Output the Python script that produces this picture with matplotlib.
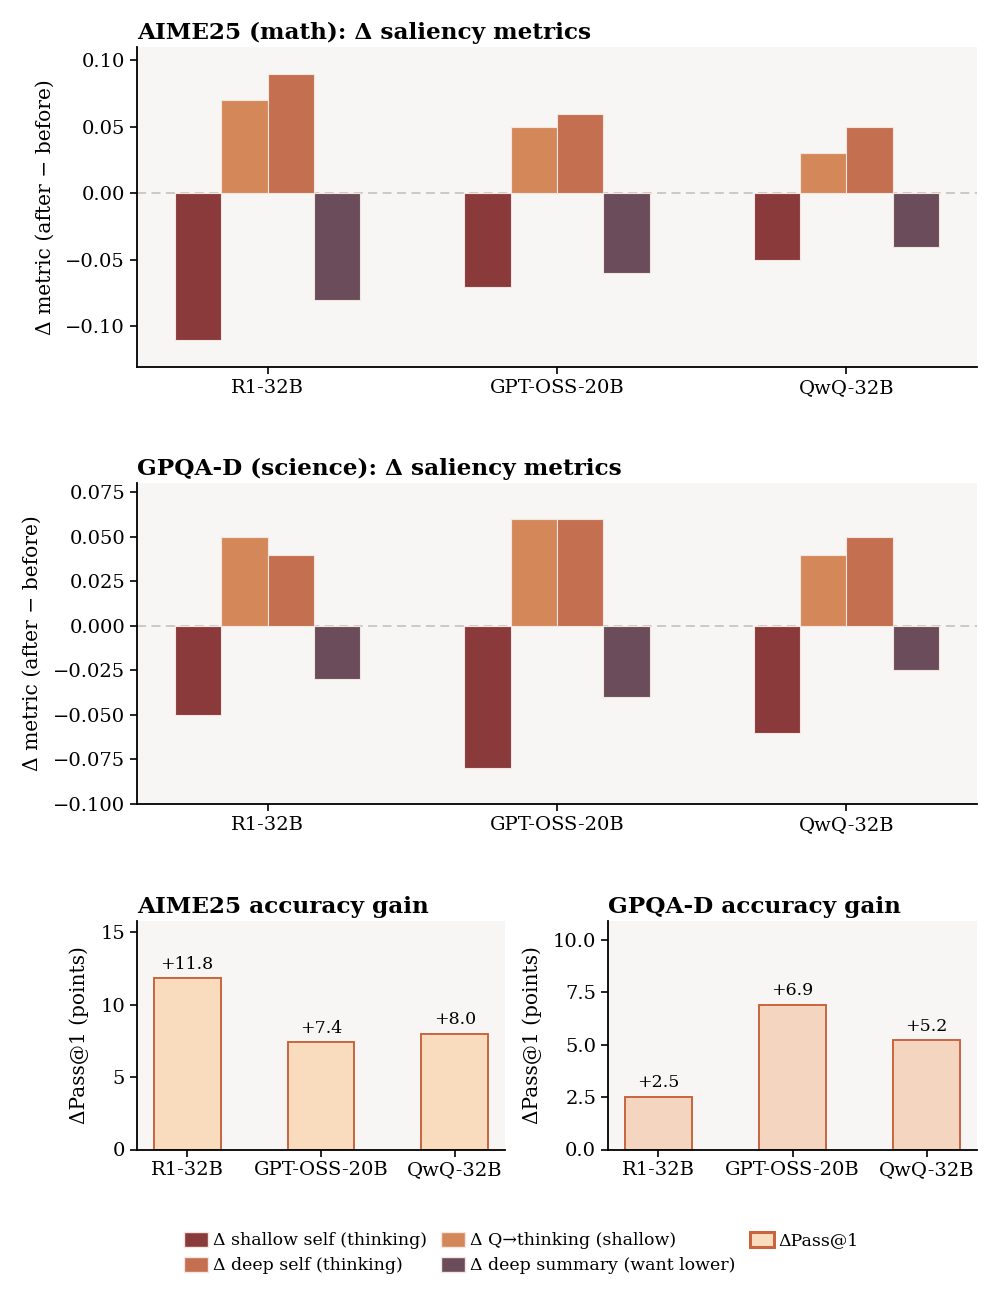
import matplotlib
matplotlib.use("Agg")
import matplotlib.pyplot as plt
import numpy as np
from matplotlib.patches import Patch

plt.rcParams['font.family'] = ['DejaVu Serif']

models = ["R1-32B", "GPT-OSS-20B", "QwQ-32B"]
metric_names = ["Δ shallow self (thinking)", "Δ Q→thinking (shallow)",
                "Δ deep self (thinking)", "Δ deep summary (want lower)"]
metric_colors = ["#8B3A3B", "#D4885A", "#C46F50", "#6B4C5A"]

aime_shallow = [-0.11, -0.07, -0.05]
aime_q2think = [0.07, 0.05, 0.03]
aime_deep = [0.09, 0.06, 0.05]
aime_summary = [-0.08, -0.06, -0.04]

gpqa_shallow = [-0.05, -0.08, -0.06]
gpqa_q2think = [0.05, 0.06, 0.04]
gpqa_deep = [0.04, 0.06, 0.05]
gpqa_summary = [-0.03, -0.04, -0.025]

aime_pass = [11.8, 7.4, 8.0]
gpqa_pass = [2.5, 6.9, 5.2]

bg = "#F8F6F4"
W, H = 997, 1304
fig = plt.figure(figsize=(W / 100, H / 100), dpi=100)

def rect(x0, y0, x1, y1):
    return [x0 / W, 1 - y1 / H, (x1 - x0) / W, (y1 - y0) / H]

def style(ax):
    ax.set_facecolor(bg)
    for s in ["top", "right"]:
        ax.spines[s].set_visible(False)
    for s in ["left", "bottom"]:
        ax.spines[s].set_linewidth(1.3)
    ax.tick_params(labelsize=14, width=1.2, length=5)

def metric_panel(ax, series, title, ylim, yticks):
    style(ax)
    x = np.arange(len(models))
    w = 0.16
    offs = [-1.5, -0.5, 0.5, 1.5]
    ax.axhline(0, color="#C9C5C1", ls=(0, (5, 3)), lw=1.3, zorder=1)
    for vals, c, o in zip(series, metric_colors, offs):
        ax.bar(x + o * w, vals, w, color=c, edgecolor="#F3E6E0", linewidth=0.8, zorder=2)
    ax.set_xticks(x)
    ax.set_xticklabels(models)
    ax.set_ylim(*ylim)
    ax.set_yticks(yticks)
    ax.set_ylabel("Δ metric (after − before)", fontsize=14.6, labelpad=8)
    ax.set_title(title, fontsize=16.7, fontweight="bold", loc="left", pad=6)

ax1 = fig.add_axes(rect(137, 47, 977, 367))
metric_panel(ax1, [aime_shallow, aime_q2think, aime_deep, aime_summary],
             "AIME25 (math): Δ saliency metrics", (-0.1305, 0.11),
             [-0.10, -0.05, 0.0, 0.05, 0.10])

ax2 = fig.add_axes(rect(137, 483, 977, 804))
metric_panel(ax2, [gpqa_shallow, gpqa_q2think, gpqa_deep, gpqa_summary],
             "GPQA-D (science): Δ saliency metrics", (-0.1, 0.0802),
             [-0.100, -0.075, -0.050, -0.025, 0.0, 0.025, 0.050, 0.075])

def pass_panel(ax, vals, title, ylim, yticks, fc):
    style(ax)
    x = np.arange(len(models))
    bars = ax.bar(x, vals, 0.5, color=fc, edgecolor="#C8653E", linewidth=1.4, zorder=2)
    for b, v in zip(bars, vals):
        ax.annotate(f"+{v:.1f}", (b.get_x() + b.get_width() / 2, v),
                    xytext=(0, 4), textcoords="offset points",
                    ha="center", va="bottom", fontsize=12.5)
    ax.set_xticks(x)
    ax.set_xticklabels(models)
    ax.set_ylim(*ylim)
    ax.set_yticks(yticks)
    ax.set_ylabel("ΔPass@1 (points)", fontsize=14.5, labelpad=8)
    ax.set_title(title, fontsize=16.7, fontweight="bold", loc="left", pad=6)

ax3 = fig.add_axes(rect(137, 921, 505, 1149.5))
pass_panel(ax3, aime_pass, "AIME25 accuracy gain", (0, 15.76), [0, 5, 10, 15], "#F9DCBE")

ax4 = fig.add_axes(rect(608, 921, 977, 1149.5))
pass_panel(ax4, gpqa_pass, "GPQA-D accuracy gain", (0, 10.89), [0, 2.5, 5.0, 7.5, 10.0], "#F4D5C0")

order = [0, 2, 1, 3]
handles = [Patch(facecolor=metric_colors[i], edgecolor="#F3E6E0", label=metric_names[i]) for i in order]
handles.append(Patch(facecolor="#F9DCBE", edgecolor="#C8653E", linewidth=2.2, label="ΔPass@1"))
fig.legend(handles=handles, loc="center", bbox_to_anchor=(0.523, 1 - 1253 / H), ncol=3,
           frameon=False, fontsize=12.5, handlelength=1.38, handleheight=1.0,
           columnspacing=0.85, handletextpad=0.25, labelspacing=0.42)

fig.savefig("out.png", dpi=100)
